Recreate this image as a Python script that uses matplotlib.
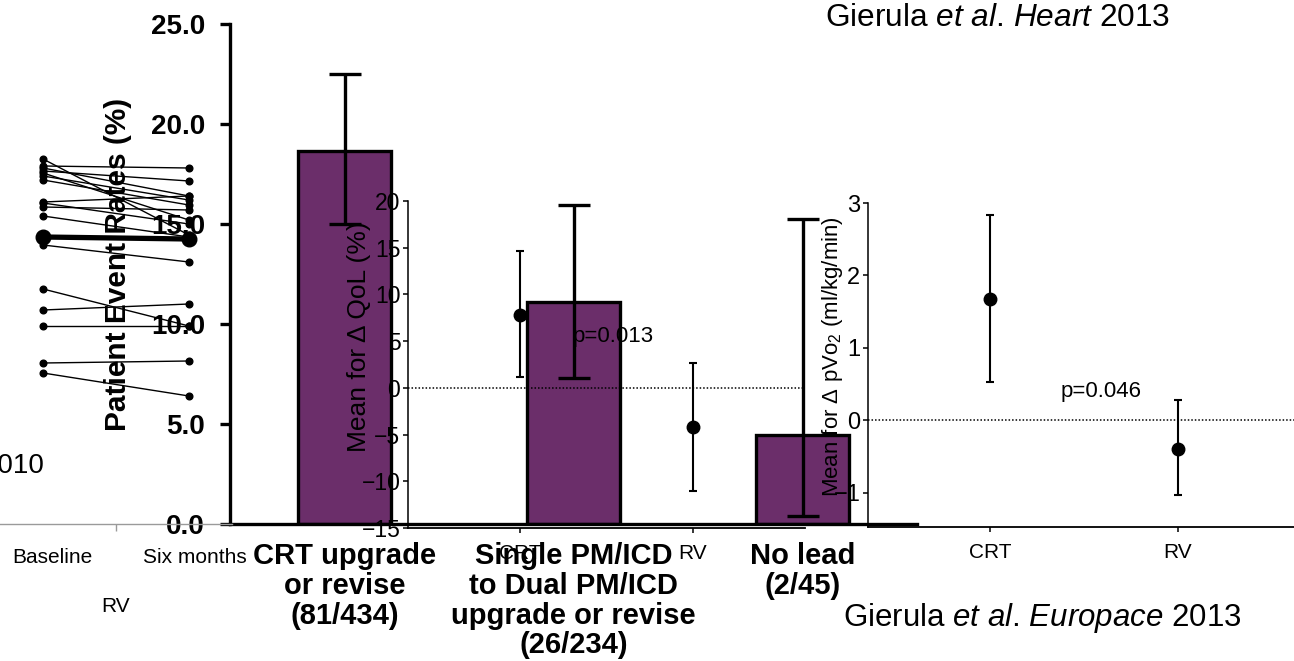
import matplotlib
matplotlib.use('Agg')
import matplotlib.pyplot as plt
from matplotlib.transforms import ScaledTranslation

plt.rcParams['font.family'] = ['Liberation Sans', 'DejaVu Sans']
plt.rcParams['mathtext.fontset'] = 'custom'
plt.rcParams['mathtext.rm'] = 'Liberation Sans'
plt.rcParams['mathtext.it'] = 'Liberation Sans:italic'
plt.rcParams['mathtext.bf'] = 'Liberation Sans:bold'

# ---------------- data ----------------
rv_timepoints = ['Baseline', 'Six months']
rv_group = 'RV'
rv_baseline = [18.25, 17.9, 17.65, 17.4, 17.2, 17.8, 17.55, 16.1, 15.85, 15.4, 16.05,
               13.95, 11.75, 10.7, 9.9, 8.05, 7.55]
rv_six_months = [14.45, 17.8, 17.15, 16.2, 15.95, 16.4, 15.2, 16.4, 15.7, 14.35, 15.0,
                 13.1, 9.9, 11.0, 9.9, 8.15, 6.4]
rv_mean = [14.35, 14.25]

event_categories = ['CRT upgrade\nor revise\n(81/434)',
                    'Single PM/ICD\nto Dual PM/ICD\nupgrade or revise\n(26/234)',
                    'No lead\n(2/45)']
event_rates = [18.66, 11.11, 4.44]
event_low = [15.0, 7.3, 0.4]
event_high = [22.5, 15.95, 15.25]
event_yticks = [0, 5, 10, 15, 20, 25]

pacing_groups = ['CRT', 'RV']
qol_mean = [7.85, -4.15]
qol_low = [1.2, -11.0]
qol_high = [14.6, 2.7]
qol_yticks = [-15, -10, -5, 0, 5, 10, 15, 20]
qol_p = 'p=0.013'

pvo2_mean = [1.68, -0.39]
pvo2_low = [0.53, -1.03]
pvo2_high = [2.83, 0.28]
pvo2_yticks = [-1, 0, 1, 2, 3]
pvo2_p = 'p=0.046'

# ---------------- layout helpers ----------------
W, H = 1294, 661
DPI = 100
fig = plt.figure(figsize=(W / DPI, H / DPI), dpi=DPI)
fig.patch.set_facecolor('white')


def rect(x0, y0, x1, y1):
    return [x0 / W, 1 - y1 / H, (x1 - x0) / W, (y1 - y0) / H]


PURPLE = '#6b2e6a'

# ---------------- bar chart (event rates) ----------------
ax_bar = fig.add_axes(rect(230, 24, 917, 524), zorder=1)
ax_bar.patch.set_visible(False)
xb = list(range(len(event_rates)))
ax_bar.bar(xb, event_rates, width=0.41, color=PURPLE, edgecolor='black', linewidth=2.4)
ax_bar.set_xlim(-0.5, 2.5)
ax_bar.set_ylim(0, 25)
for s in ['top', 'right']:
    ax_bar.spines[s].set_visible(False)
ax_bar.spines['left'].set_linewidth(2.4)
ax_bar.spines['bottom'].set_linewidth(2.4)
ax_bar.set_yticks(event_yticks)
ax_bar.set_yticklabels(['%.1f' % v for v in event_yticks], fontweight='bold')
ax_bar.tick_params(axis='y', length=7, width=2.4, pad=11, labelsize=20)
ax_bar.set_xticks(xb)
ax_bar.set_xticklabels(event_categories, fontsize=21, fontweight='bold', linespacing=1.08)
ax_bar.tick_params(axis='x', length=0, pad=13)
ax_bar.set_ylabel('Patient Event Rates (%)', fontsize=21.5, fontweight='bold')
ax_bar.yaxis.set_label_coords(-0.143, 0.52)

# ---------------- RV spaghetti plot ----------------
ax_rv = fig.add_axes(rect(0, 24, 232, 524), zorder=2)
ax_rv.patch.set_visible(False)
for b, s in zip(rv_baseline, rv_six_months):
    ax_rv.plot([0, 1], [b, s], color='black', lw=1.0, marker='o', ms=4.8, clip_on=False)
ax_rv.plot([0, 1], rv_mean, color='black', lw=3.8, marker='o', ms=10.5, clip_on=False)
ax_rv.set_xlim(-0.295, 1.295)
ax_rv.set_ylim(0, 25)
for s in ['top', 'right', 'left']:
    ax_rv.spines[s].set_visible(False)
ax_rv.spines['bottom'].set_color('#9a9a9a')
ax_rv.spines['bottom'].set_linewidth(1.0)
ax_rv.set_yticks([])
ax_rv.set_xticks([0, 1])
ax_rv.set_xticklabels(rv_timepoints, fontsize=15)
ax_rv.set_xticks([0.5], minor=True)
ax_rv.tick_params(axis='x', which='major', length=0, pad=17)
ax_rv.tick_params(axis='x', which='minor', length=5, color='#9a9a9a', width=1)
for lbl, dx in zip(ax_rv.get_xticklabels(), [9, 6]):
    lbl.set_transform(lbl.get_transform() + ScaledTranslation(dx / DPI, 0, fig.dpi_scale_trans))
ax_rv.set_xlabel(rv_group, fontsize=15, labelpad=22)
fig.text(45 / W, 1 - 466 / H, '2010', ha='right', va='center', fontsize=20)

# ---------------- QoL panel ----------------
ax_qol = fig.add_axes(rect(408, 201, 805, 528), zorder=3)
ax_qol.patch.set_visible(False)
xq = list(range(len(qol_mean)))
ax_qol.errorbar(xq, qol_mean,
                yerr=[[m - l for m, l in zip(qol_mean, qol_low)],
                      [h - m for m, h in zip(qol_mean, qol_high)]],
                fmt='o', color='black', ms=9, elinewidth=1.5, capsize=3, capthick=1.5)
ax_qol.axhline(0, color='black', lw=1.1, ls=(0, (1, 1.3)))
ax_qol.set_xlim(-0.65, 1.65)
ax_qol.set_ylim(-15, 20)
for s in ['top', 'right']:
    ax_qol.spines[s].set_visible(False)
ax_qol.spines['left'].set_linewidth(1.1)
ax_qol.spines['bottom'].set_linewidth(1.3)
ax_qol.set_yticks(qol_yticks)
ax_qol.set_xticks(xq)
ax_qol.set_xticklabels(pacing_groups)
ax_qol.tick_params(axis='y', length=3.5, width=1.1, labelsize=16.5, pad=2)
ax_qol.tick_params(axis='x', length=3.5, width=1.1, labelsize=15, pad=8)
ax_qol.set_ylabel('Mean for Δ QoL (%)', fontsize=19)
ax_qol.yaxis.set_label_coords(-0.093, 0.584)
ax_qol.text(0.54, 5.5, qol_p, fontsize=16, ha='center', va='center')

# ---------------- pVO2 panel ----------------
ax_pv = fig.add_axes(rect(868, 203, 1300, 527), zorder=3)
ax_pv.patch.set_visible(False)
xp = list(range(len(pvo2_mean)))
ax_pv.errorbar(xp, pvo2_mean,
               yerr=[[m - l for m, l in zip(pvo2_mean, pvo2_low)],
                     [h - m for m, h in zip(pvo2_mean, pvo2_high)]],
               fmt='o', color='black', ms=9, elinewidth=1.5, capsize=3, capthick=1.5)
ax_pv.axhline(0, color='black', lw=1.1, ls=(0, (1, 1.3)))
ax_pv.set_xlim(-0.65, 1.65)
ax_pv.set_ylim(-1.47, 3)
for s in ['top', 'right']:
    ax_pv.spines[s].set_visible(False)
ax_pv.spines['left'].set_linewidth(1.1)
ax_pv.spines['bottom'].set_linewidth(1.3)
ax_pv.set_yticks(pvo2_yticks)
ax_pv.set_xticks(xp)
ax_pv.set_xticklabels(pacing_groups)
ax_pv.tick_params(axis='y', length=3.5, width=1.1, labelsize=17, pad=2)
ax_pv.tick_params(axis='x', length=3.5, width=1.1, labelsize=15, pad=8)
ax_pv.set_ylabel(r'Mean for Δ pVo$_2$ (ml/kg/min)', fontsize=16)
ax_pv.yaxis.set_label_coords(-0.053, 0.525)
ax_pv.text(0.59, 0.4, pvo2_p, fontsize=16, ha='center', va='center')

# ---------------- bar error bars (top layer) ----------------
ax_err = fig.add_axes(rect(230, 24, 917, 524), zorder=4)
ax_err.patch.set_visible(False)
ax_err.errorbar(xb, event_rates,
                yerr=[[m - l for m, l in zip(event_rates, event_low)],
                      [h - m for m, h in zip(event_rates, event_high)]],
                fmt='none', ecolor='black', elinewidth=2.4, capsize=11.5, capthick=2.4)
ax_err.set_xlim(-0.5, 2.5)
ax_err.set_ylim(0, 25)
ax_err.axis('off')

# ---------------- citations ----------------
fig.text(825 / W, 1 - 18 / H, r'Gierula $\mathit{et\ al}$. $\mathit{Heart}$ 2013',
         ha='left', va='center', fontsize=22.8)
fig.text(843 / W, 1 - 618 / H, r'Gierula $\mathit{et\ al}$. $\mathit{Europace}$ 2013',
         ha='left', va='center', fontsize=22.5)

fig.savefig('out.png', dpi=DPI)
